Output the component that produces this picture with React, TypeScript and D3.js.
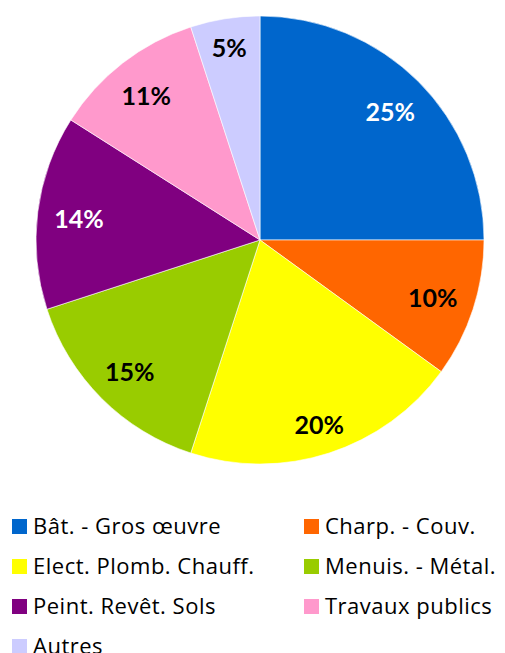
import * as d3 from "d3";
import { useEffect, useRef } from "react";

const categories = [
  "Bât. - Gros œuvre",
  "Charp. - Couv.",
  "Elect. Plomb. Chauff.",
  "Menuis. - Métal.",
  "Peint. Revêt. Sols",
  "Travaux publics",
  "Autres",
];
const values = [25, 10, 20, 15, 14, 11, 5];
const colors = ["#0066CC", "#FF6600", "#FFFF00", "#99CC00", "#800080", "#FF99CC", "#CCCCFF"];
const labelColors = ["#fff", "#000", "#000", "#000", "#fff", "#000", "#000"];

const width = 505;
const height = 653;
const cx = 260;
const cy = 240;
const radius = 224;
const labelFont = 25;

export default function App() {
  const ref = useRef<SVGSVGElement>(null);

  useEffect(() => {
    if (!ref.current) return;
    const svg = d3.select(ref.current);
    svg.selectAll("*").remove();

    const data = categories.map((c, i) => ({ name: c, value: values[i], color: colors[i], lc: labelColors[i] }));
    const pie = d3.pie<(typeof data)[number]>().value((d) => d.value).sort(null);
    const arcs = pie(data);
    const arc = d3.arc<d3.PieArcDatum<(typeof data)[number]>>().innerRadius(0).outerRadius(radius);

    const g = svg.append("g").attr("transform", `translate(${cx},${cy})`);
    g.selectAll("path")
      .data(arcs)
      .join("path")
      .attr("d", arc)
      .attr("fill", (d) => d.data.color)
      .attr("stroke", "#fff")
      .attr("stroke-width", 0.6);

    const total = d3.sum(values);
    // "inside end" labels: text box pushed out to just inside the rim
    const labels = g
      .selectAll("text")
      .data(arcs)
      .join("text")
      .attr("text-anchor", "middle")
      .attr("dy", "0.45em")
      .attr("font-family", "Lato, sans-serif")
      .attr("font-weight", "bold")
      .attr("font-size", labelFont)
      .attr("fill", (d) => d.data.lc)
      .text((d) => `${Math.round((d.data.value / total) * 100)}%`);

    labels.each(function (d) {
      const el = this as SVGTextElement;
      const hw = el.getBBox().width / 2;
      const hh = labelFont * 0.36;
      const a = (d.startAngle + d.endAngle) / 2;
      const ux = Math.sin(a);
      const uy = -Math.cos(a);
      const r = radius - 16 - (Math.abs(ux) * hw + Math.abs(uy) * hh);
      d3.select(el).attr("transform", `translate(${ux * r},${uy * r})`);
    });

    // legend
    const legend = svg.append("g");
    const items = legend
      .selectAll("g")
      .data(data)
      .join("g")
      .attr("transform", (d, i) => `translate(${i % 2 === 0 ? 12 : 304},${519 + Math.floor(i / 2) * 40})`);
    items.append("rect").attr("width", 15).attr("height", 15).attr("fill", (d) => d.color);
    items
      .append("text")
      .attr("x", 21)
      .attr("y", 15)
      .attr("font-family", "'Open Sans', sans-serif")
      .attr("font-size", 22)
      .attr("letter-spacing", 0.5)
      .attr("fill", "#000")
      .text((d) => d.name);

    return () => {
      svg.selectAll("*").remove();
    };
  }, []);

  return (
    <svg
      ref={ref}
      width={width}
      height={height}
      style={{ position: "absolute", left: 0, top: 0, background: "#fff" }}
    />
  );
}
